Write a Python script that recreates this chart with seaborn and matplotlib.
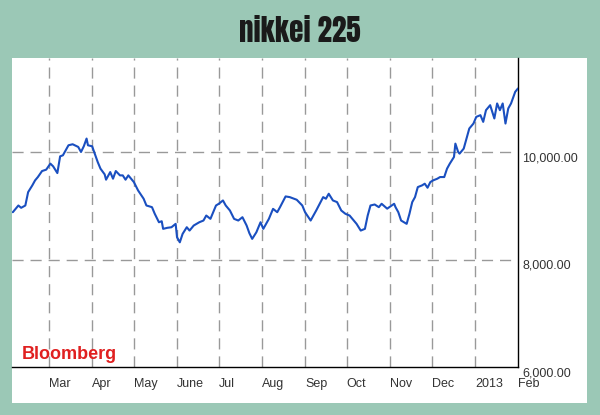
import matplotlib
matplotlib.use("Agg")
import matplotlib.pyplot as plt
from matplotlib.patches import Rectangle
import pandas as pd
import seaborn as sns

dates = [
    "2012-02-04", "2012-02-08", "2012-02-10", "2012-02-13", "2012-02-15", "2012-02-18",
    "2012-02-20", "2012-02-22", "2012-02-25", "2012-02-28", "2012-03-02", "2012-03-04",
    "2012-03-07", "2012-03-09", "2012-03-11", "2012-03-15", "2012-03-18", "2012-03-22",
    "2012-03-24", "2012-03-26", "2012-03-28", "2012-03-29", "2012-04-01", "2012-04-05",
    "2012-04-07", "2012-04-10", "2012-04-11", "2012-04-14", "2012-04-16", "2012-04-18",
    "2012-04-21", "2012-04-23", "2012-04-25", "2012-04-27", "2012-05-01", "2012-05-04",
    "2012-05-08", "2012-05-10", "2012-05-14", "2012-05-16", "2012-05-19", "2012-05-21",
    "2012-05-22", "2012-05-25", "2012-05-28", "2012-05-31", "2012-06-01", "2012-06-03",
    "2012-06-05", "2012-06-08", "2012-06-10", "2012-06-13", "2012-06-17", "2012-06-20",
    "2012-06-22", "2012-06-25", "2012-06-27", "2012-06-29", "2012-07-01", "2012-07-04",
    "2012-07-06", "2012-07-09", "2012-07-12", "2012-07-15", "2012-07-18", "2012-07-21",
    "2012-07-23", "2012-07-25", "2012-07-28", "2012-07-31", "2012-08-02", "2012-08-06",
    "2012-08-09", "2012-08-12", "2012-08-14", "2012-08-18", "2012-08-21", "2012-08-26",
    "2012-08-30", "2012-09-01", "2012-09-05", "2012-09-07", "2012-09-09", "2012-09-14",
    "2012-09-16", "2012-09-18", "2012-09-21", "2012-09-24", "2012-09-27", "2012-09-30",
    "2012-10-03", "2012-10-08", "2012-10-11", "2012-10-14", "2012-10-16", "2012-10-18",
    "2012-10-21", "2012-10-24", "2012-10-26", "2012-10-30", "2012-11-04", "2012-11-05",
    "2012-11-07", "2012-11-09", "2012-11-13", "2012-11-15", "2012-11-17", "2012-11-19",
    "2012-11-21", "2012-11-24", "2012-11-26", "2012-11-28", "2012-11-30", "2012-12-02",
    "2012-12-05", "2012-12-07", "2012-12-10", "2012-12-12", "2012-12-14", "2012-12-17",
    "2012-12-18", "2012-12-20", "2012-12-21", "2012-12-24", "2012-12-26", "2012-12-28",
    "2012-12-31", "2013-01-02", "2013-01-05", "2013-01-07", "2013-01-09", "2013-01-12",
    "2013-01-15", "2013-01-17", "2013-01-19", "2013-01-21", "2013-01-23", "2013-01-25",
    "2013-01-27", "2013-01-30", "2013-02-01",
]
values = [
    8884, 9009, 8966, 9009, 9258, 9383,
    9477, 9539, 9651, 9677, 9789, 9738,
    9613, 9925, 9944, 10131, 10150, 10100,
    10006, 10112, 10256, 10131, 10112, 9819,
    9695, 9589, 9490, 9632, 9508, 9651,
    9570, 9570, 9490, 9570, 9445, 9290,
    9135, 9009, 8978, 8854, 8697, 8716,
    8574, 8593, 8604, 8667, 8417, 8323,
    8480, 8604, 8542, 8636, 8697, 8729,
    8822, 8760, 8884, 9009, 9041, 9103,
    9009, 8916, 8760, 8729, 8791, 8636,
    8492, 8387, 8510, 8697, 8574, 8760,
    8947, 8884, 8978, 9178, 9165, 9116,
    9009, 8884, 8729, 8822, 8916, 9165,
    9135, 9228, 9103, 9072, 8916, 8854,
    8822, 8667, 8542, 8574, 8822, 9009,
    9028, 8978, 9041, 8950, 9041, 8978,
    8884, 8729, 8667, 8854, 9072, 9165,
    9352, 9383, 9415, 9340, 9445, 9477,
    9508, 9539, 9539, 9695, 9789, 9913,
    10162, 10006, 9975, 10069, 10256, 10443,
    10536, 10660, 10692, 10567, 10785, 10878,
    10630, 10910, 10785, 10910, 10536, 10817,
    10910, 11127, 11190,
]
month_starts = ["2012-03-01", "2012-04-01", "2012-05-01", "2012-06-01", "2012-07-01",
                "2012-08-01", "2012-09-01", "2012-10-01", "2012-11-01", "2012-12-01",
                "2013-01-01", "2013-02-01"]
month_labels = ["Mar", "Apr", "May", "June", "Jul", "Aug", "Sep", "Oct", "Nov", "Dec",
                "2013", "Feb"]
y_ticks = [6000, 8000, 10000]
y_tick_labels = ["6,000.00", "8,000.00", "10,000.00"]
title = "nikkei 225"
source = "Bloomberg"

df = pd.DataFrame({"date": pd.to_datetime(dates), "value": values})

sns.set_style("white")
plt.rcParams["font.family"] = ["Liberation Sans", "DejaVu Sans"]

bg = "#9BC8B6"
fig = plt.figure(figsize=(6, 4.15), dpi=100, facecolor=bg)
fig.patches.append(Rectangle((12 / 600, 1 - 403 / 415), (587 - 12) / 600, (403 - 58) / 415,
                             transform=fig.transFigure, facecolor="white",
                             edgecolor="none", zorder=-5))
ax = fig.add_axes([12 / 600, 1 - 367 / 415, (518 - 12) / 600, (367 - 58) / 415])
ax.set_facecolor("white")
ax.set_zorder(2)

sns.lineplot(data=df, x="date", y="value", ax=ax, color="#1A4FC0", linewidth=1.5, zorder=3)

ax.set_xlim(pd.Timestamp("2012-02-03 10:00"), pd.Timestamp("2013-02-01"))
ax.set_ylim(6000, 11757)

ms = pd.to_datetime(month_starts)
ax.set_xticks(ms)
ax.set_xticklabels(month_labels, ha="left", fontsize=9, color="#333333")
ax.set_yticks(y_ticks)
ax.set_yticklabels(y_tick_labels, fontsize=9, color="#333333", va="top")
ax.yaxis.tick_right()
ax.tick_params(axis="x", length=0, pad=8)
ax.tick_params(axis="y", length=0, pad=3)
ax.set_xlabel("")
ax.set_ylabel("")

for d in ms[:-1]:
    ax.axvline(d, color="#999999", linewidth=1, linestyle=(0, (8, 5)), zorder=1)
for v in y_ticks[1:]:
    ax.axhline(v, color="#999999", linewidth=1, linestyle=(0, (8, 5)), zorder=1)

for s in ["top", "left"]:
    ax.spines[s].set_visible(False)
for s in ["bottom", "right"]:
    ax.spines[s].set_color("black")
    ax.spines[s].set_linewidth(1)

fig.text(0.5, 1 - 31 / 415, title, ha="center", va="center", fontsize=21,
         color="#1a1a1a", family=["Anton", "DejaVu Sans"])
fig.text(22 / 600, 1 - 354 / 415, source, ha="left", va="center", fontsize=13,
         fontweight="bold", color="#E02020")

fig.savefig("out.png", dpi=100, facecolor=bg)
